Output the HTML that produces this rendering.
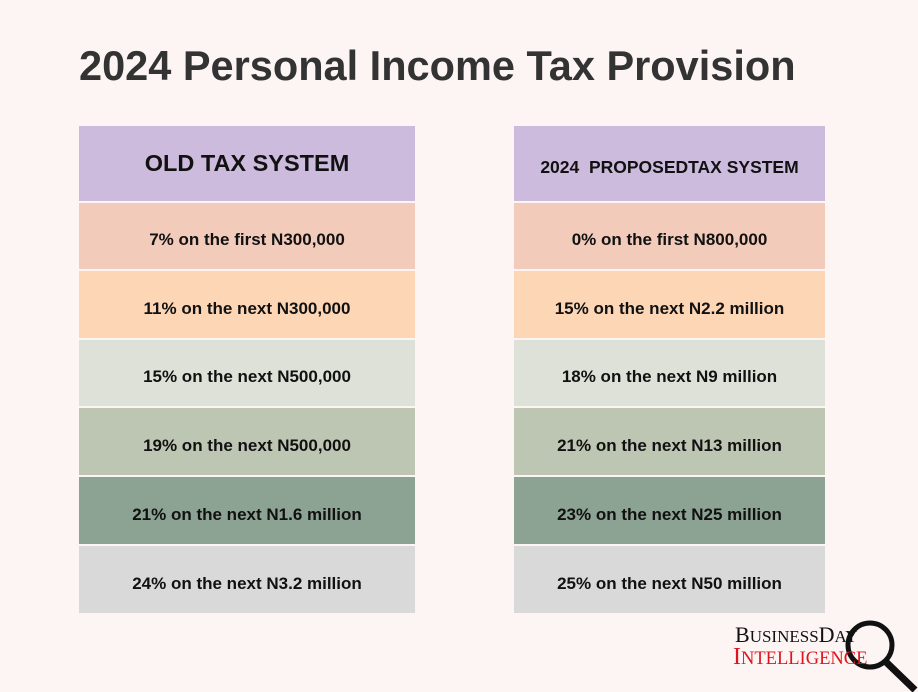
<!DOCTYPE html>
<html><head><style>
body{margin:0;width:918px;height:692px;background:#fdf5f3;font-family:"Liberation Sans",sans-serif;position:relative;overflow:hidden}
.t{position:absolute;left:79px;top:42px;font-size:41.5px;font-weight:bold;color:#333}
.c{position:absolute;display:flex;align-items:center;justify-content:center;font-weight:bold;font-size:17px;color:#111;padding-top:8px;box-sizing:border-box}
</style></head><body>
<div class="t">2024 Personal Income Tax Provision</div>
<div class="c" style="left:79px;top:126px;width:336px;height:75px;background:#cdbbdd;font-size:23.5px;padding-top:0">OLD TAX SYSTEM</div>
<div class="c" style="left:79px;top:203px;width:336px;height:66px;background:#f2cbba">7% on the first N300,000</div>
<div class="c" style="left:79px;top:271px;width:336px;height:67px;background:#fdd6b6">11% on the next N300,000</div>
<div class="c" style="left:79px;top:340px;width:336px;height:66px;background:#dde1d8">15% on the next N500,000</div>
<div class="c" style="left:79px;top:408px;width:336px;height:67px;background:#bdc6b3">19% on the next N500,000</div>
<div class="c" style="left:79px;top:477px;width:336px;height:67px;background:#8ca292">21% on the next N1.6 million</div>
<div class="c" style="left:79px;top:546px;width:336px;height:67px;background:#d9d9d9">24% on the next N3.2 million</div>
<div class="c" style="left:514px;top:126px;width:311px;height:75px;background:#cdbbdd;padding-top:7px;font-size:17.5px;white-space:pre">2024  PROPOSEDTAX SYSTEM</div>
<div class="c" style="left:514px;top:203px;width:311px;height:66px;background:#f2cbba">0% on the first N800,000</div>
<div class="c" style="left:514px;top:271px;width:311px;height:67px;background:#fdd6b6">15% on the next N2.2 million</div>
<div class="c" style="left:514px;top:340px;width:311px;height:66px;background:#dde1d8">18% on the next N9 million</div>
<div class="c" style="left:514px;top:408px;width:311px;height:67px;background:#bdc6b3">21% on the next N13 million</div>
<div class="c" style="left:514px;top:477px;width:311px;height:67px;background:#8ca292">23% on the next N25 million</div>
<div class="c" style="left:514px;top:546px;width:311px;height:67px;background:#d9d9d9">25% on the next N50 million</div>
<svg style="position:absolute;left:840px;top:612px" width="78" height="80"><circle cx="30" cy="33" r="22" fill="none" stroke="#111" stroke-width="5"/><line x1="46" y1="50" x2="75" y2="78" stroke="#111" stroke-width="7"/></svg>
<div style="position:absolute;left:735px;top:624px;font-family:'Liberation Serif',serif;font-size:22px;line-height:22px;color:#111">B<span style="font-size:17px">USINESS</span>D<span style="font-size:17px">AY</span></div>
<div style="position:absolute;left:733px;top:645px;font-family:'Liberation Serif',serif;font-size:24px;line-height:24px;color:#e0141e">I<span style="font-size:18.5px">NTELLIGENCE</span></div>
</body></html>
